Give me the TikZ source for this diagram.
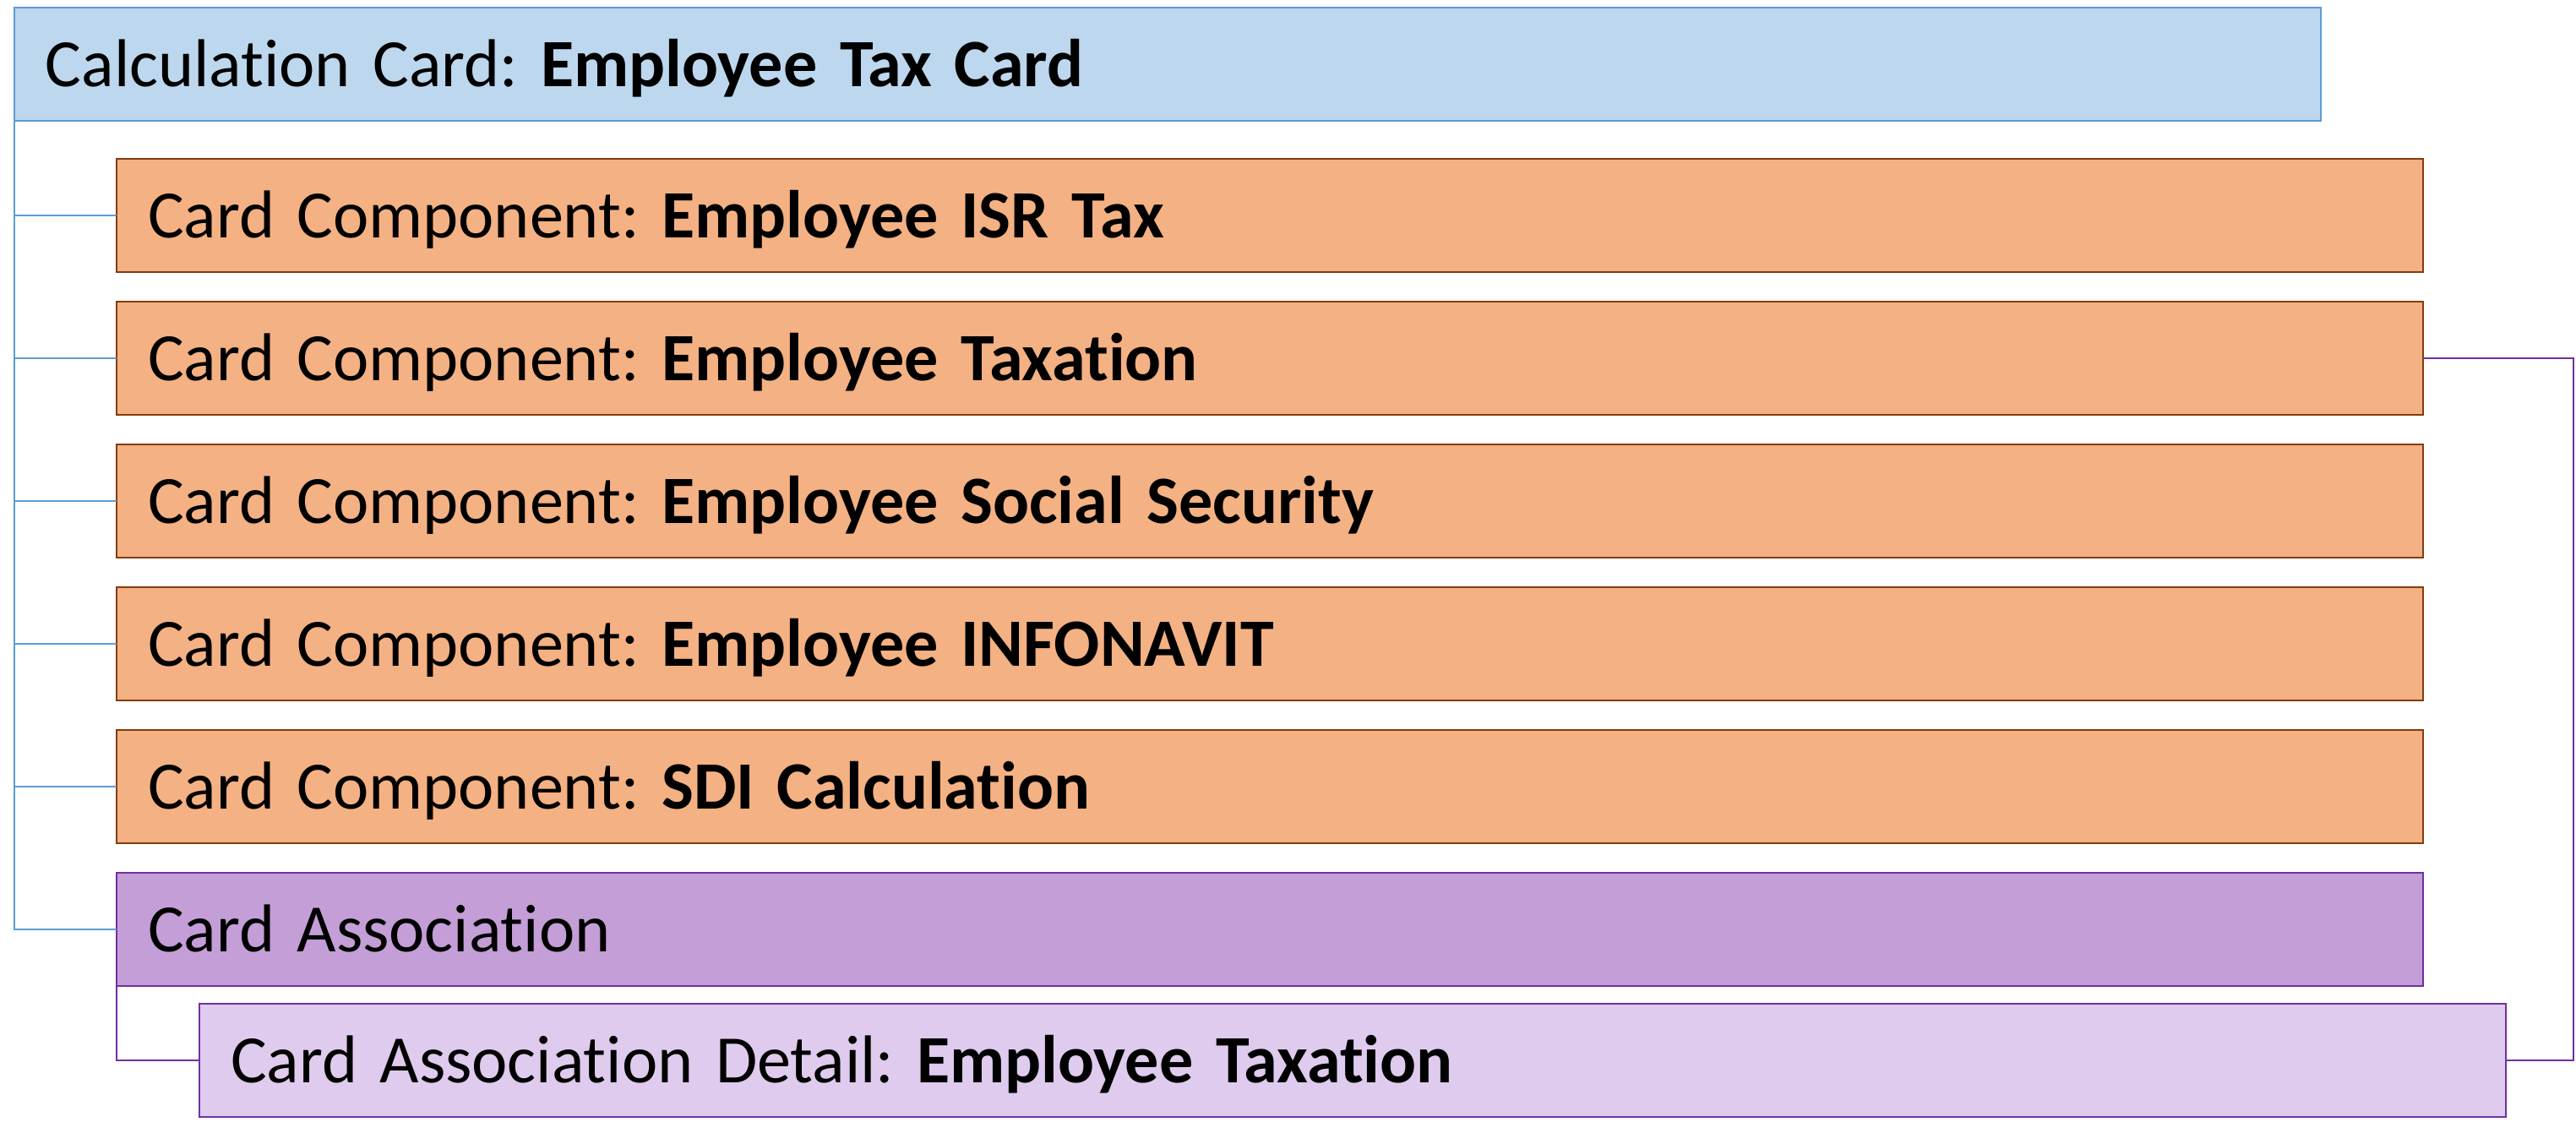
\documentclass[tikz,border=0pt]{standalone}
\usepackage{fontspec}
\setmainfont{Carlito}[Ligatures=NoCommon]
\usepackage{xcolor}
\usetikzlibrary{positioning}
\definecolor{calcfill}{HTML}{BDD7EE}
\definecolor{calcline}{HTML}{5B9BD5}
\definecolor{compfill}{HTML}{F4B183}
\definecolor{compline}{HTML}{843C0C}
\definecolor{assocfill}{HTML}{C49ED7}
\definecolor{detailfill}{HTML}{DFCBEE}
\definecolor{assocline}{HTML}{7030A0}
\frenchspacing

\begin{document}
\begin{tikzpicture}
  [every node/.style={rectangle,draw,line width=0.75pt,outer sep=0pt,anchor=north west,text width=26.56cm,align=left,inner xsep=0.37cm,minimum height=1.34cm,text height=0.52cm,text depth=0pt,font=\fontsize{22.8}{28}\selectfont},node distance=0.35cm]
\tikzset{%
calccard/.style={fill=calcfill,draw=calcline},
cardcomp/.style={fill=compfill,draw=compline},
cardassoc/.style={fill=assocfill,draw=assocline},
assocdetail/.style={fill=detailfill,draw=assocline},
bluelink/.style={draw=calcline,line width=0.45pt},
purplelink/.style={draw=assocline,line width=0.45pt}
}
\useasboundingbox (0,0) rectangle (30.49,-13.53);
  \node[calccard] (calc) at (0.17,-0.09) {Calculation Card: \textbf{Employee Tax Card}};
  \node[cardcomp] (isr) at (1.38,-1.88) {Card Component: \textbf{Employee ISR Tax}};
  \node[cardcomp,below=of isr] (taxn) {Card Component: \textbf{Employee Taxation}};
  \node[cardcomp,below=of taxn] (ssec) {Card Component: \textbf{Employee Social Security}};
  \node[cardcomp,below=of ssec] (info) {Card Component: \textbf{Employee INFONAVIT}};
  \node[cardcomp,below=of info] (sdi) {Card Component: \textbf{SDI Calculation}};
  \node[cardassoc,below=of sdi] (assoc) {Card Association};
  \node[assocdetail] (detail) at (2.36,-11.88) {Card Association Detail: \textbf{Employee Taxation}};
\coordinate (rail) at (30.46,0);
% tree lines
\foreach \n in {isr,taxn,ssec,info,sdi,assoc}
  \draw[bluelink] (calc.south west) |- (\n.west);
\draw[purplelink] (assoc.south west) |- (detail.west);
\draw[purplelink] (taxn.east) -- (taxn.east -| rail) -- (detail.east -| rail) -- (detail.east);
\end{tikzpicture}
\end{document}
